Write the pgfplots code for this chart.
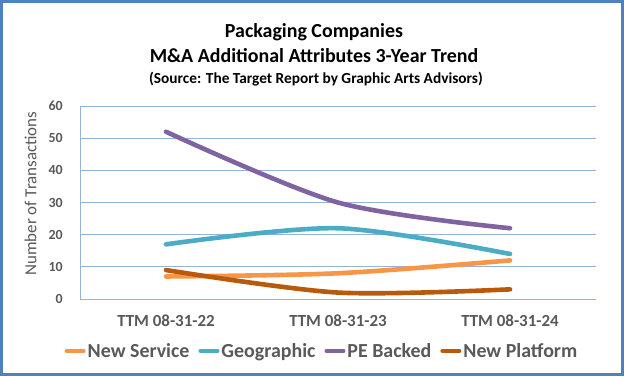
\documentclass[border=0pt]{standalone}
\usepackage{fontspec}
\setmainfont{Carlito}
\usepackage{pgfplots}
\pgfplotsset{compat=1.18}
\definecolor{cServ}{HTML}{F79646}
\definecolor{cGeo}{HTML}{4BACC6}
\definecolor{cPE}{HTML}{8064A2}
\definecolor{cPlat}{HTML}{B9590C}
\definecolor{cGrid}{HTML}{95B3D7}
\definecolor{cFrame}{HTML}{4F81BD}
\definecolor{cTxt}{HTML}{595959}
\begin{document}
\begin{tikzpicture}[x=1bp,y=1bp]
\useasboundingbox (0,0) rectangle (624,376);
\fill[white] (0,0) rectangle (624,376);
\draw[cFrame, line width=3bp] (1.5,1.5) rectangle (622.5,374.5);
\node[anchor=base, font=\fontsize{20}{24}\selectfont\bfseries] at (314,338.5) {Packaging Companies};
\node[anchor=base, font=\fontsize{20}{24}\selectfont\bfseries] at (314,314) {M\&A Additional Attributes 3-Year Trend};
\node[anchor=base, font=\fontsize{15.4}{18}\selectfont\bfseries] at (316,292.7) {(Source: The Target Report by Graphic Arts Advisors)};
\node[rotate=90, font=\fontsize{17}{20}\selectfont, text=cTxt] at (30.5,182.5) {Number of Transactions};
\begin{axis}[
  at={(80bp,77bp)}, anchor=south west,
  scale only axis, width=516bp, height=193bp,
  xmin=-0.5, xmax=2.5, ymin=0, ymax=60,
  xtick={0,1,2}, xticklabels={TTM 08-31-22,TTM 08-31-23,TTM 08-31-24},
  ytick={0,10,...,60},
  major tick length=0pt,
  axis line style={cGrid, line width=1bp},
  axis x line*=bottom, axis y line*=left,
  ymajorgrids, grid style={cGrid, line width=1bp},
  xticklabel style={font=\fontsize{17}{20}\selectfont\bfseries, text=cTxt, inner sep=0pt, anchor=north, yshift=-16bp},
  yticklabel style={font=\fontsize{14}{16}\selectfont\bfseries, text=cTxt, inner sep=0pt, anchor=east, xshift=-17bp},
  /pgf/number format/assume math mode=true,
  legend columns=4,
  legend style={at={(0.467,-0.269)}, anchor=center, draw=none, fill=none,
    font=\fontsize{20}{24}\selectfont\bfseries, text=cTxt,
    inner sep=0pt,
    nodes={inner sep=0pt},
    /tikz/every odd column/.append style={column sep=2bp},
    /tikz/every even column/.append style={column sep=9bp}},
  legend image code/.code={\draw[#1, line width=4bp, line cap=round] (0bp,0bp) -- (17bp,0bp);},
  every axis plot/.append style={line width=4.6bp, line cap=round, smooth, no markers},
  clip=false,
]
\addplot[cServ] coordinates {(0,7) (1,8) (2,12)};
\addlegendentry{New Service}
\addplot[cGeo] coordinates {(0,17) (1,22) (2,14)};
\addlegendentry{Geographic}
\addplot[cPE] coordinates {(0,52) (1,30) (2,22)};
\addlegendentry{PE Backed}
\addplot[cPlat] coordinates {(0,9) (1,2) (2,3)};
\addlegendentry{New Platform}
\end{axis}
\end{tikzpicture}
\end{document}
